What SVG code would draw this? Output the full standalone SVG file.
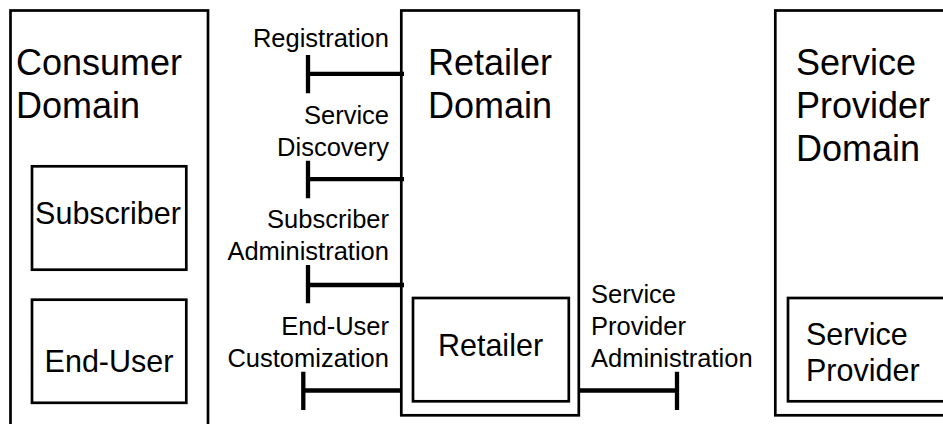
<svg xmlns="http://www.w3.org/2000/svg" width="943" height="424" viewBox="0 0 943 424">
<style>
.dom{fill:#fff;stroke:#000;stroke-width:2.7}
.box{fill:#fff;stroke:#000;stroke-width:2.7}
.t{font-family:"Liberation Sans",Arial,Helvetica,sans-serif;fill:#000}
.big{font-size:36px}
.mid{font-size:30.5px}
.lbl{font-size:25.5px}
.c{stroke:#000;stroke-width:4.3;fill:none}
</style>
<rect width="943" height="424" fill="#fff"/>
<g id="consumer-domain">
<rect class="dom" x="10.5" y="10.5" width="197.5" height="430"/>
<text class="t big" x="16" y="75">Consumer</text>
<text class="t big" x="16" y="118">Domain</text>
</g>
<g id="subscriber">
<rect class="box" x="32" y="166.3" width="154.3" height="103.4"/>
<text class="t mid" x="108" y="224" text-anchor="middle">Subscriber</text>
</g>
<g id="end-user">
<rect class="box" x="32" y="299.7" width="154.3" height="103.1"/>
<text class="t mid" x="109" y="372" text-anchor="middle">End-User</text>
</g>
<g id="retailer-domain">
<rect class="dom" x="401.3" y="10.5" width="177.5" height="404.8"/>
<text class="t big" x="490" y="75" text-anchor="middle">Retailer</text>
<text class="t big" x="490" y="118" text-anchor="middle">Domain</text>
</g>
<g id="retailer">
<rect class="box" x="413" y="298" width="155.8" height="103.3"/>
<text class="t mid" x="490.5" y="356" text-anchor="middle">Retailer</text>
</g>
<g id="service-provider-domain">
<rect class="dom" x="775.3" y="10.5" width="200" height="404.8"/>
<text class="t big" x="796" y="75">Service</text>
<text class="t big" x="796" y="118">Provider</text>
<text class="t big" x="796" y="161">Domain</text>
</g>
<g id="service-provider">
<rect class="box" x="788" y="298" width="200" height="103.3"/>
<text class="t mid" x="806" y="345">Service</text>
<text class="t mid" x="806" y="381">Provider</text>
</g>
<g id="connectors">
<path class="c" d="M308 73.8H404M308 55V93.3"/>
<path class="c" d="M308 179.2H404M308 160.7V198.3"/>
<path class="c" d="M308 285H404M308 265V303.3"/>
<path class="c" d="M303.3 390.5H401M303.3 371.7V410"/>
<path class="c" d="M578.8 390.5H677M677 371.7V410"/>
</g>
<g id="labels">
<text class="t lbl" x="389" y="47" text-anchor="end">Registration</text>
<text class="t lbl" x="389" y="124" text-anchor="end">Service</text>
<text class="t lbl" x="389" y="156" text-anchor="end">Discovery</text>
<text class="t lbl" x="389" y="228" text-anchor="end">Subscriber</text>
<text class="t lbl" x="389" y="260" text-anchor="end">Administration</text>
<text class="t lbl" x="389" y="335" text-anchor="end">End-User</text>
<text class="t lbl" x="389" y="367" text-anchor="end">Customization</text>
<text class="t lbl" x="591" y="303">Service</text>
<text class="t lbl" x="591" y="335">Provider</text>
<text class="t lbl" x="591" y="367">Administration</text>
</g>
</svg>
